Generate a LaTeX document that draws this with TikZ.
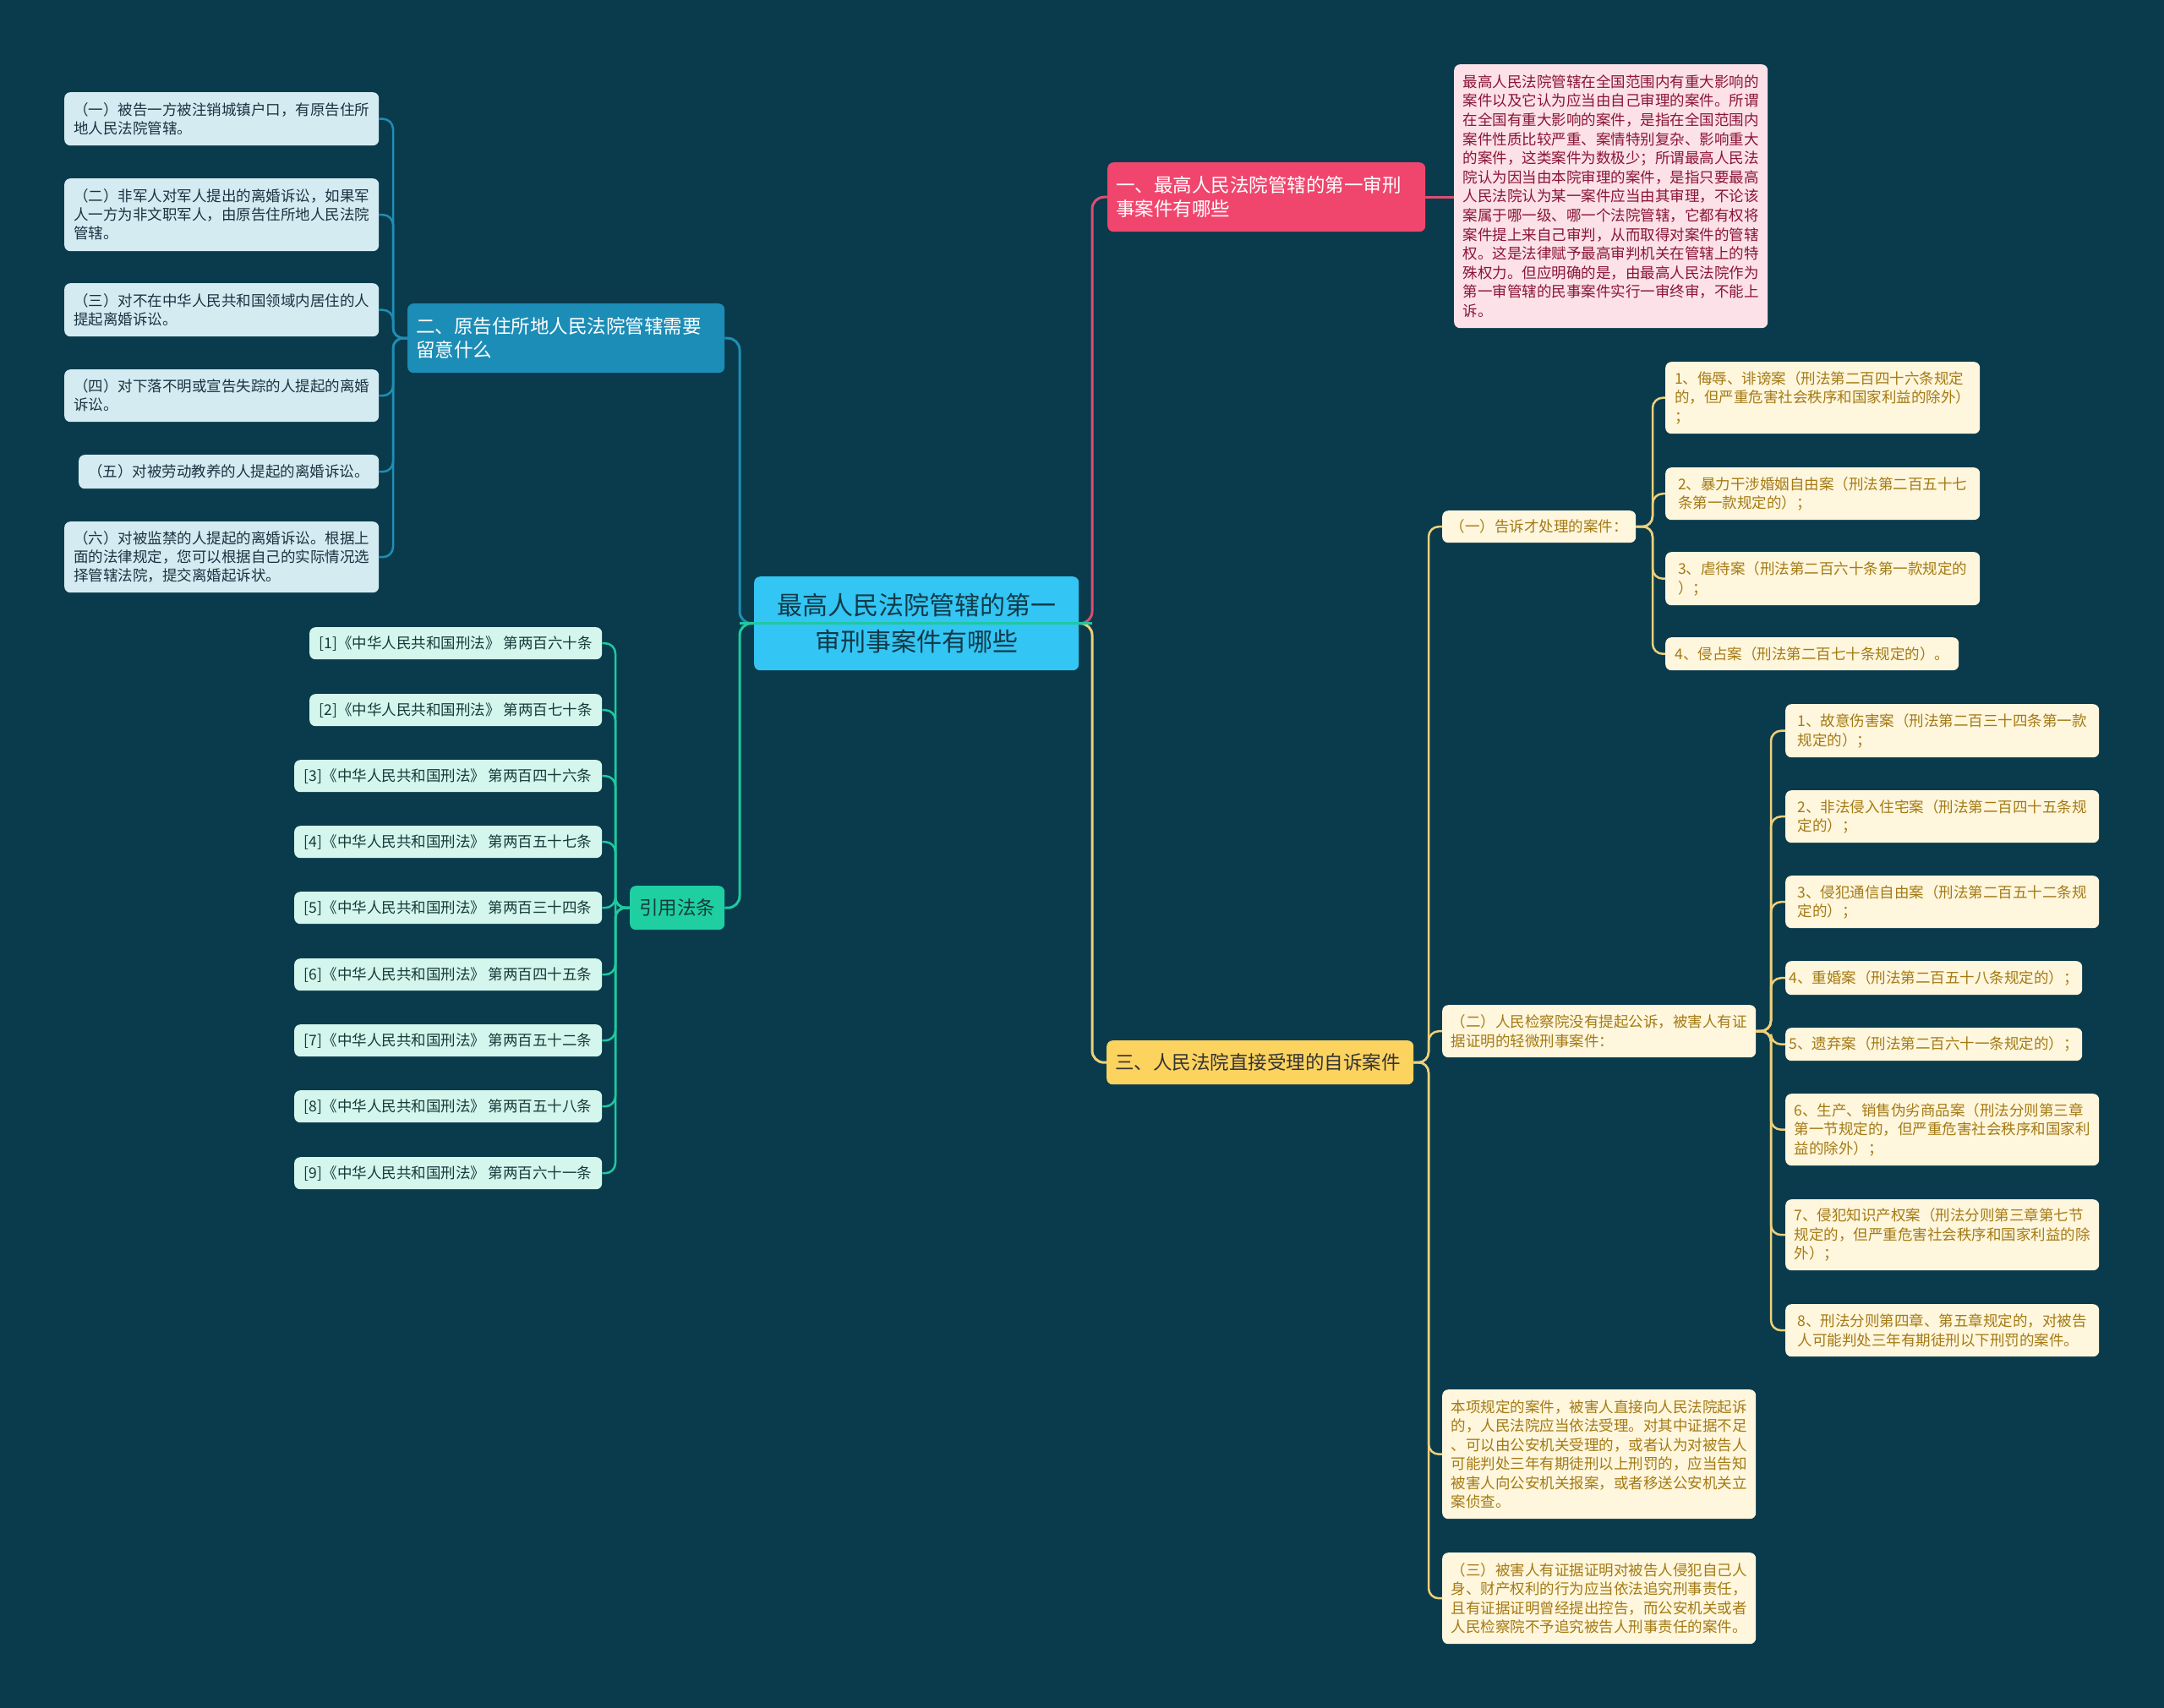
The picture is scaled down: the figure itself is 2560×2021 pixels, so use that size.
\documentclass[tikz,border=0pt]{standalone}
\usepackage{fontspec}
\setmainfont{Noto Sans CJK SC}
\definecolor{bgc}{HTML}{0A3B4C}
\definecolor{cCen}{HTML}{33C5F3}
\definecolor{cCenT}{HTML}{123A48}
\definecolor{cPink}{HTML}{F0466E}
\definecolor{cPinkLn}{HTML}{DB4E73}
\definecolor{cPinkL}{HTML}{FCE1E8}
\definecolor{cPinkT}{HTML}{8A1538}
\definecolor{cBlue}{HTML}{1C8DB7}
\definecolor{cBlueLn}{HTML}{1E8EB5}
\definecolor{cBlueL}{HTML}{D5EBF2}
\definecolor{cBlueT}{HTML}{1A3340}
\definecolor{cGrn}{HTML}{1FCFA2}
\definecolor{cGrnLn}{HTML}{1FC9A0}
\definecolor{cGrnL}{HTML}{D4F6EC}
\definecolor{cGrnT}{HTML}{163A3A}
\definecolor{cYel}{HTML}{FCD35E}
\definecolor{cYelLn}{HTML}{EFD07A}
\definecolor{cYelL}{HTML}{FEF6DD}
\definecolor{cYelT}{HTML}{A47A14}
\definecolor{cYelBT}{HTML}{333333}
\newcommand\mmbox[7]{\pgfmathsetmacro\mmw{#4-#2}\pgfmathsetmacro\mmh{#5-#3}\node[#6,anchor=north west,minimum width=\mmw pt,minimum height=\mmh pt] (#1) at (#2,#3) {#7};}
\newcommand\mmboxl[7]{\pgfmathsetmacro\mmh{#5-#3}\pgfmathsetmacro\mmt{#4-#2-20}\node[#6,anchor=north west,inner xsep=10pt,text width=\mmt pt,minimum height=\mmh pt] (#1) at (#2,#3) {#7};}
\begin{document}
\begin{tikzpicture}[x=1pt,y=-1pt,
  boxbase/.style={rounded corners=7pt, inner sep=0pt, align=left},
  cnode/.style={boxbase, fill=cCen, text=cCenT, font=\fontsize{30}{43}\selectfont, align=center},
  pnode/.style={boxbase, fill=cPink, text=white, font=\fontsize{22.5}{28}\selectfont},
  bnode/.style={boxbase, fill=cBlue, text=white, font=\fontsize{22.5}{28}\selectfont},
  ynode/.style={boxbase, fill=cYel, text=cYelBT, font=\fontsize{22.5}{28}\selectfont},
  gnode/.style={boxbase, fill=cGrn, text=cGrnT, font=\fontsize{22.5}{28}\selectfont, align=center},
  pdesc/.style={boxbase, fill=cPinkL, text=cPinkT, font=\fontsize{17.5}{22.6}\selectfont},
  bleaf/.style={boxbase, fill=cBlueL, text=cBlueT, font=\fontsize{17.5}{22}\selectfont},
  gleaf/.style={boxbase, fill=cGrnL, text=cGrnT, font=\fontsize{17.5}{22}\selectfont, align=center},
  yleaf/.style={boxbase, fill=cYelL, text=cYelT, font=\fontsize{17.5}{22.5}\selectfont},
  con/.style={line width=3pt, rounded corners=14pt},
  subc/.style={line width=2.5pt, rounded corners=12pt}
]
\fill[bgc] (0,0) rectangle (2560,2021);
\useasboundingbox (0,0) rectangle (2560,2021);

% central
\mmbox{c}{892}{682}{1276}{793}{cnode}{最高人民法院管辖的第一\\审刑事案件有哪些}

% branch 1
\mmboxl{b1}{1310}{192}{1686}{274}{pnode}{一、最高人民法院管辖的第一审刑\\事案件有哪些}
\mmbox{pd}{1720}{76}{2091}{388}{pdesc}{最高人民法院管辖在全国范围内有重大影响的\\案件以及它认为应当由自己审理的案件。所谓\\在全国有重大影响的案件，是指在全国范围内\\案件性质比较严重、案情特别复杂、影响重大\\的案件，这类案件为数极少；所谓最高人民法\\院认为因当由本院审理的案件，是指只要最高\\人民法院认为某一案件应当由其审理，不论该\\案属于哪一级、哪一个法院管辖，它都有权将\\案件提上来自己审判，从而取得对案件的管辖\\权。这是法律赋予最高审判机关在管辖上的特\\殊权力。但应明确的是，由最高人民法院作为\\第一审管辖的民事案件实行一审终审，不能上\\诉。}

% branch 2
\mmboxl{b2}{482}{359}{857}{441}{bnode}{二、原告住所地人民法院管辖需要\\留意什么}
\mmbox{q1}{76}{109}{448}{172}{bleaf}{（一）被告一方被注销城镇户口，有原告住所\\地人民法院管辖。}
\mmbox{q2}{76}{211}{448}{297}{bleaf}{（二）非军人对军人提出的离婚诉讼，如果军\\人一方为非文职军人，由原告住所地人民法院\\管辖。}
\mmbox{q3}{76}{335}{448}{398}{bleaf}{（三）对不在中华人民共和国领域内居住的人\\提起离婚诉讼。}
\mmbox{q4}{76}{437}{448}{499}{bleaf}{（四）对下落不明或宣告失踪的人提起的离婚\\诉讼。}
\mmbox{q5}{93}{538}{448}{578}{bleaf}{（五）对被劳动教养的人提起的离婚诉讼。}
\mmbox{q6}{76}{617}{448}{701}{bleaf}{（六）对被监禁的人提起的离婚诉讼。根据上\\面的法律规定，您可以根据自己的实际情况选\\择管辖法院，提交离婚起诉状。}

% green branch
\mmbox{g}{745}{1048}{857}{1100}{gnode}{引用法条}
\mmbox{r1}{366}{742}{712}{780}{gleaf}{[1]《中华人民共和国刑法》 第两百六十条}
\mmbox{r2}{366}{821}{712}{859}{gleaf}{[2]《中华人民共和国刑法》 第两百七十条}
\mmbox{r3}{348}{899}{712}{937}{gleaf}{[3]《中华人民共和国刑法》 第两百四十六条}
\mmbox{r4}{348}{977}{712}{1015}{gleaf}{[4]《中华人民共和国刑法》 第两百五十七条}
\mmbox{r5}{348}{1055}{712}{1093}{gleaf}{[5]《中华人民共和国刑法》 第两百三十四条}
\mmbox{r6}{348}{1134}{712}{1172}{gleaf}{[6]《中华人民共和国刑法》 第两百四十五条}
\mmbox{r7}{348}{1212}{712}{1250}{gleaf}{[7]《中华人民共和国刑法》 第两百五十二条}
\mmbox{r8}{348}{1290}{712}{1328}{gleaf}{[8]《中华人民共和国刑法》 第两百五十八条}
\mmbox{r9}{348}{1369}{712}{1407}{gleaf}{[9]《中华人民共和国刑法》 第两百六十一条}

% branch 3
\mmboxl{b3}{1309}{1231}{1672}{1283}{ynode}{三、人民法院直接受理的自诉案件}
\mmbox{s1}{1706}{604}{1935}{642}{yleaf}{（一）告诉才处理的案件：}
\mmbox{s2}{1706}{1189}{2077}{1251}{yleaf}{（二）人民检察院没有提起公诉，被害人有证\\据证明的轻微刑事案件：}
\mmbox{s3}{1706}{1644}{2077}{1797}{yleaf}{本项规定的案件，被害人直接向人民法院起诉\\的，人民法院应当依法受理。对其中证据不足\\、可以由公安机关受理的，或者认为对被告人\\可能判处三年有期徒刑以上刑罚的，应当告知\\被害人向公安机关报案，或者移送公安机关立\\案侦查。}
\mmbox{s4}{1706}{1837}{2077}{1945}{yleaf}{（三）被害人有证据证明对被告人侵犯自己人\\身、财产权利的行为应当依法追究刑事责任，\\且有证据证明曾经提出控告，而公安机关或者\\人民检察院不予追究被告人刑事责任的案件。}

\mmbox{l1}{1970}{428}{2342}{513}{yleaf}{1、侮辱、诽谤案（刑法第二百四十六条规定\\的，但严重危害社会秩序和国家利益的除外）\\；}
\mmbox{l2}{1970}{553}{2342}{615}{yleaf}{2、暴力干涉婚姻自由案（刑法第二百五十七\\条第一款规定的）；}
\mmbox{l3}{1970}{653}{2342}{716}{yleaf}{3、虐待案（刑法第二百六十条第一款规定的\\）；}
\mmbox{l4}{1970}{754}{2317}{793}{yleaf}{4、侵占案（刑法第二百七十条规定的）。}

\mmbox{m1}{2112}{833}{2483}{896}{yleaf}{1、故意伤害案（刑法第二百三十四条第一款\\规定的）；}
\mmbox{m2}{2112}{935}{2483}{997}{yleaf}{2、非法侵入住宅案（刑法第二百四十五条规\\定的）；}
\mmbox{m3}{2112}{1036}{2483}{1098}{yleaf}{3、侵犯通信自由案（刑法第二百五十二条规\\定的）；}
\mmbox{m4}{2112}{1137}{2463}{1177}{yleaf}{4、重婚案（刑法第二百五十八条规定的）；}
\mmbox{m5}{2112}{1216}{2463}{1255}{yleaf}{5、遗弃案（刑法第二百六十一条规定的）；}
\mmbox{m6}{2112}{1294}{2483}{1379}{yleaf}{6、生产、销售伪劣商品案（刑法分则第三章\\第一节规定的，但严重危害社会秩序和国家利\\益的除外）；}
\mmbox{m7}{2112}{1419}{2483}{1503}{yleaf}{7、侵犯知识产权案（刑法分则第三章第七节\\规定的，但严重危害社会秩序和国家利益的除\\外）；}
\mmbox{m8}{2112}{1543}{2483}{1605}{yleaf}{8、刑法分则第四章、第五章规定的，对被告\\人可能判处三年有期徒刑以下刑罚的案件。}

% main connectors
\draw[con, cPinkLn] (c.east) -- (1292,737.5) |- (b1.west);
\draw[con, cYelLn] (c.east) -- (1292,737.5) |- (b3.west);
\draw[con, cBlueLn] (c.west) -- (875,737.5) |- (b2.east);
\draw[con, cGrnLn] (c.west) -- (875,737.5) |- (g.east);
\draw[line width=3pt, cGrnLn] (875,737.5) -- (1292,737.5);
\draw[con, cPinkLn] (b1.east) -- (pd.west |- b1.east);

% branch 2 leaves
\foreach \n in {q1,q2,q3,q4,q5,q6}{
  \draw[subc, cBlueLn] (b2.west) -- (465,400) |- (\n.east);
}
% green refs
\foreach \n in {r1,r2,r3,r4,r5,r6,r7,r8,r9}{
  \draw[subc, cGrnLn] (g.west) -- (728,1074) |- (\n.east);
}
% branch 3 subs
\foreach \n in {s1,s2,s3,s4}{
  \draw[subc, cYelLn] (b3.east) -- (1690,1257) |- (\n.west);
}
\foreach \n in {l1,l2,l3,l4}{
  \draw[subc, cYelLn] (s1.east) -- (1955,623) |- (\n.west);
}
\foreach \n in {m1,m2,m3,m4,m5,m6,m7,m8}{
  \draw[subc, cYelLn] (s2.east) -- (2095,1220) |- (\n.west);
}
\end{tikzpicture}
\end{document}
